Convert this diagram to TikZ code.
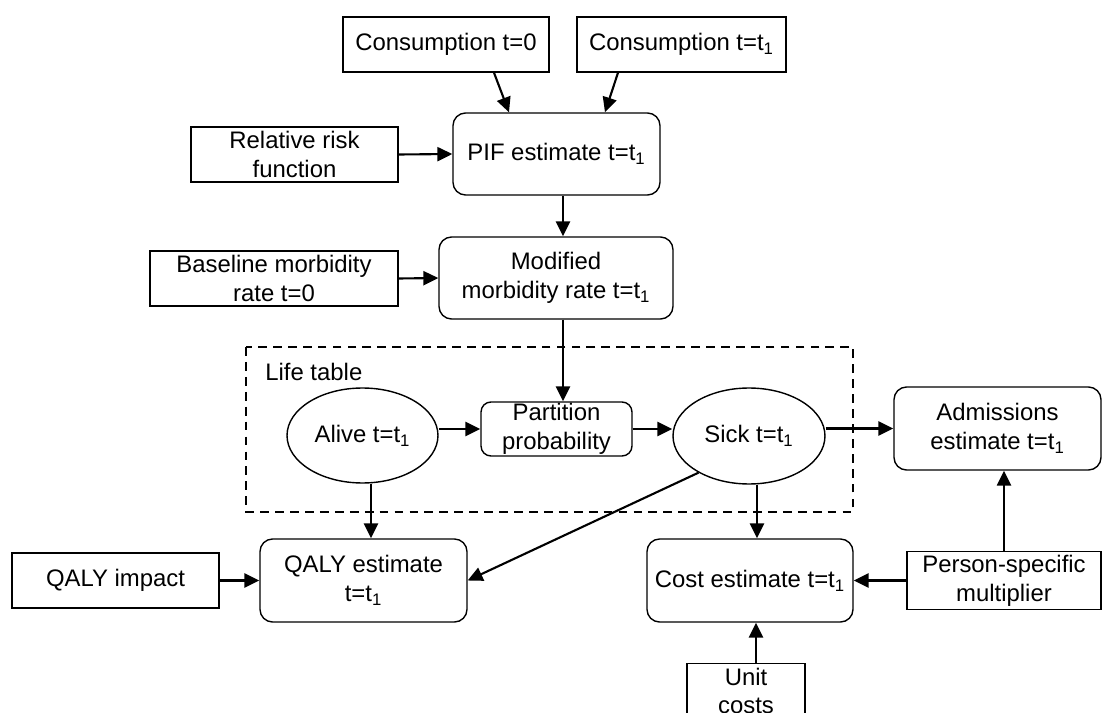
\documentclass[tikz,border=0pt]{standalone}
\usepackage{fontspec}
\setmainfont{Liberation Sans}
\usepackage{tikz}
\usetikzlibrary{shapes.geometric, arrows.meta}
\tikzstyle {box} = [draw, line width=0.8pt, inner sep=2pt, align=center, minimum height=1.1cm]
\tikzstyle {roundbox} = [box, rounded corners=0.25cm, minimum height=1.64cm]
\tikzstyle {oval} = [draw, ellipse, line width=0.8pt, inner sep=0pt, align=center]
\tikzstyle {link} = [line width=1.2pt, -{Triangle[length=8.5pt, width=8pt]}]
\tikzstyle {lifebox} = [line width=0.8pt, dash pattern=on 5pt off 3.5pt]

\begin{document}
\begin{tikzpicture}[x=0.02cm, y=-0.02cm, font=\fontsize{13.6}{16.4}\selectfont]
      \useasboundingbox (0,0) rectangle (1103,713);
      \clip (0,0) rectangle (1103,713);
      % inputs at the top
      \node [box, minimum width=4.12cm] (cons0) at (446,44.5) {Consumption t=0};
      \node [box, minimum width=4.18cm] (cons1) at (681.5,44.5) {Consumption t=t\textsubscript{1}};
      \node [box, minimum width=4.14cm] (rrf) at (294.5,154.5) {Relative risk\\function};
      \node [roundbox, minimum width=4.14cm] (pif) at (556.5,154) {PIF estimate t=t\textsubscript{1}};
      \node [box, minimum width=4.96cm] (base) at (274,278.5) {Baseline morbidity\\rate t=0};
      \node [roundbox, minimum width=4.68cm] (modrate) at (556,278) {Modified\\morbidity rate t=t\textsubscript{1}};
      % life table
      \draw [lifebox] (246,347) rectangle (853,512);
      \node [anchor=west, inner sep=0pt] (lifelbl) at (265,372) {Life table};
      \node [oval, minimum width=3.02cm, minimum height=1.9cm] (alive) at (362.5,435.5) {Alive t=t\textsubscript{1}};
      \node [box, rounded corners=0.2cm, inner sep=0pt, minimum width=3.02cm, minimum height=1.08cm] (part) at (556.5,429) {Partition\\probability};
      \node [oval, minimum width=3.04cm, minimum height=1.92cm] (sick) at (749,436) {Sick t=t\textsubscript{1}};
      % outputs
      \node [roundbox, minimum width=4.14cm, minimum height=1.66cm] (adm) at (997.5,428.5) {Admissions\\estimate t=t\textsubscript{1}};
      \node [box, minimum width=4.14cm] (qimp) at (115.5,580.5) {QALY impact};
      \node [roundbox, minimum width=4.14cm, minimum height=1.66cm] (qaly) at (363.5,580.5) {QALY estimate\\t=t\textsubscript{1}};
      \node [roundbox, minimum width=4.12cm, minimum height=1.66cm] (cost) at (750,580.5) {Cost estimate t=t\textsubscript{1}};
      \node [box, minimum width=3.88cm] (pers) at (1004,580.5) {Person-specific\\multiplier};
      \node [box, minimum width=2.36cm] (unit) at (746,691) {Unit\\costs};
      % connectors
      \draw [link] ([xshift=0.96cm]cons0.south) -- ([xshift=-0.95cm]pif.north);
      \draw [link] ([xshift=-1.27cm]cons1.south) -- ([xshift=0.97cm]pif.north);
      \draw [link] (rrf.east) -- (pif.west);
      \draw [link] ([xshift=0.13cm]pif.south) -- ([xshift=0.13cm]pif.south |- modrate.north);
      \draw [link] (base.east) -- (modrate.west);
      \draw [link] ([xshift=0.13cm]pif.south |- modrate.south) -- ([xshift=0.13cm]pif.south |- part.north);
      \draw [link] (alive.east |- part.west) -- (part.west);
      \draw [link] (part.east) -- (sick.west |- part.east);
      \draw [link] (sick.east |- adm.west) -- (adm.west);
      \draw [link] ([xshift=0.17cm]alive.south) -- ([xshift=0.17cm]alive.south |- qaly.north);
      \draw [link] (sick.216) -- (qaly.east);
      \draw [link] ([xshift=0.16cm]sick.south) -- ([xshift=0.16cm]sick.south |- cost.north);
      \draw [link] (qimp.east) -- (qaly.west);
      \draw [link] (pers.west) -- (cost.east);
      \draw [link] (pers.north) -- (pers.north |- adm.south);
      \draw [link] ([xshift=0.2cm]unit.north) -- ([xshift=0.2cm]unit.north |- cost.south);
    \end{tikzpicture}
\end{document}
